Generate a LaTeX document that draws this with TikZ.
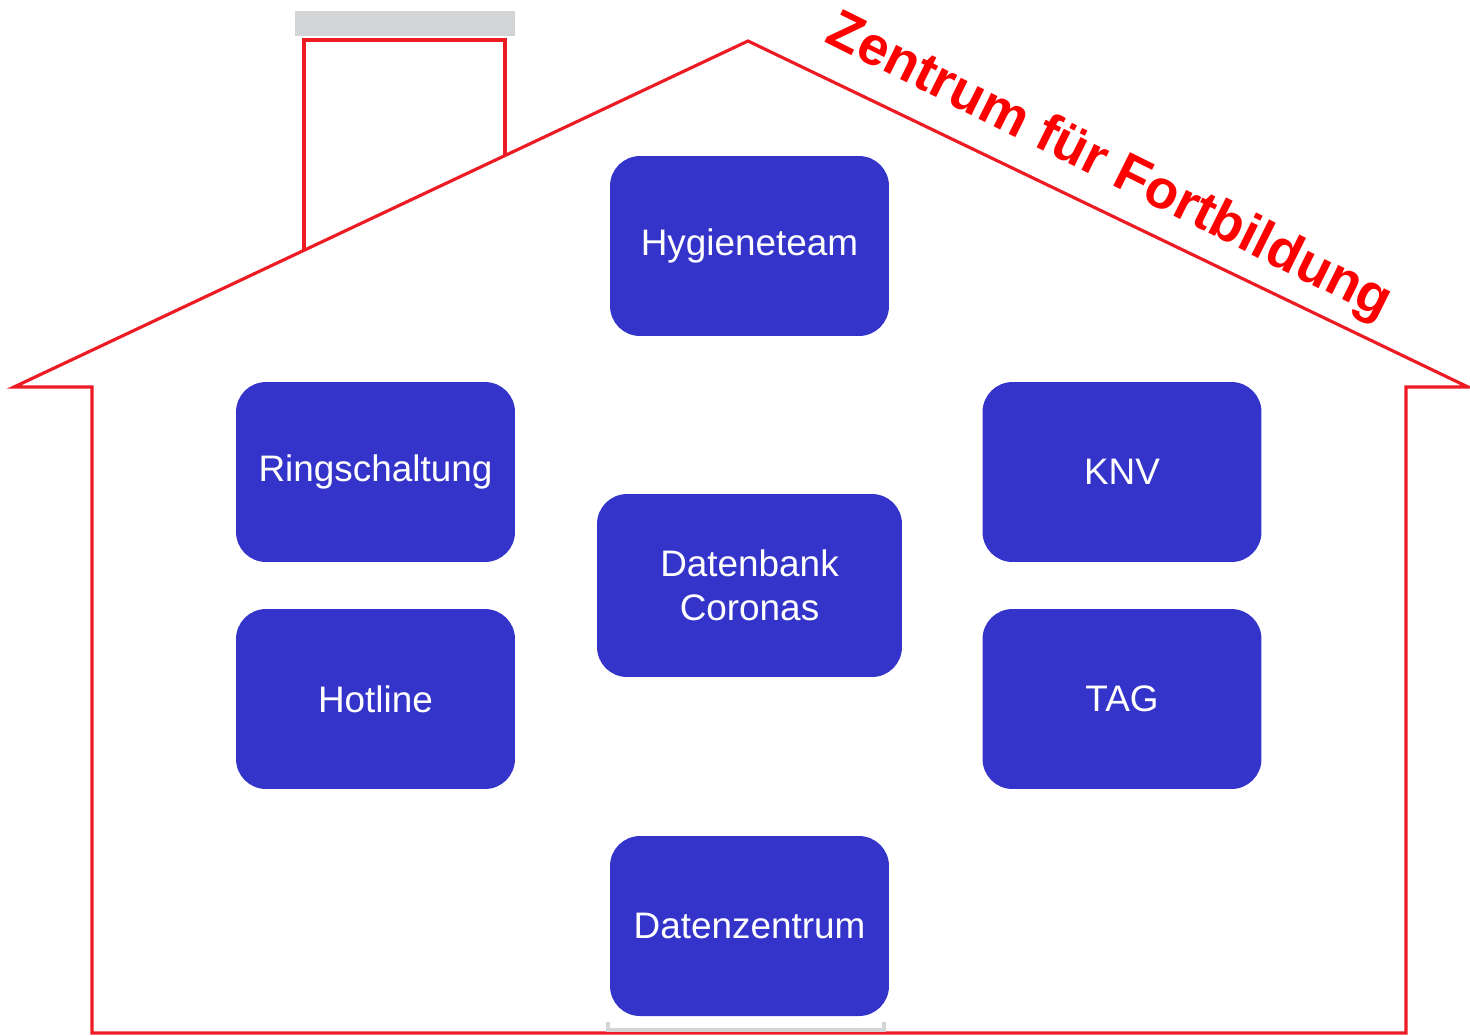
\documentclass[tikz,border=0pt]{standalone}
\usepackage{fontspec}
\setmainfont{Liberation Sans}
\usepackage{xcolor}
\usepackage{tikz}
\definecolor{unitblue}{RGB}{52,52,202}
\definecolor{wallred}{RGB}{237,28,36}
\definecolor{capgray}{RGB}{211,212,214}

\begin{document}
\begin{tikzpicture}[x=0.02cm, y=-0.02cm,
    unit/.style={rectangle, rounded corners=0.6cm, fill=unitblue, text=white,
      minimum width=5.58cm, minimum height=3.6cm, align=center,
      font=\fontsize{21}{25}\selectfont}]
          \useasboundingbox (0,0) rectangle (1470,1035);

          \fill[capgray] (295,11) rectangle (515,36);
          \draw[wallred, line width=1.8pt] (304,250) -- (304,40) -- (505,40) -- (505,155);
          \draw[wallred, line width=1.8pt] (14,387) -- (92,387) -- (92,1033) -- (1406,1033)
            -- (1406,387) -- (1468,387) -- (748,41) -- cycle;
          \draw[capgray, line width=2.2pt] (608,1022) -- (608,1030) -- (884,1030) -- (884,1022);

          \foreach \x/\y/\nm/\lbl in {749.5/246/hygiene/Hygieneteam, 375.5/472/ring/Ringschaltung,
            1122/472/knv/KNV, 375.5/699/hotline/Hotline, 1122/699/tag/TAG, 749.5/926/dzentrum/Datenzentrum}{%
            \node[unit] (\nm) at (\x, \y) {\lbl};
          }
          \node[unit, minimum width=6.1cm, minimum height=3.66cm] (dbank) at (749.5,585.5) {Datenbank\\Coronas};

          \node[text=red, font=\fontsize{31}{36}\selectfont\bfseries, rotate=-26.5] (zff) at (1109,168) {Zentrum für Fortbildung};
        \end{tikzpicture}
\end{document}
